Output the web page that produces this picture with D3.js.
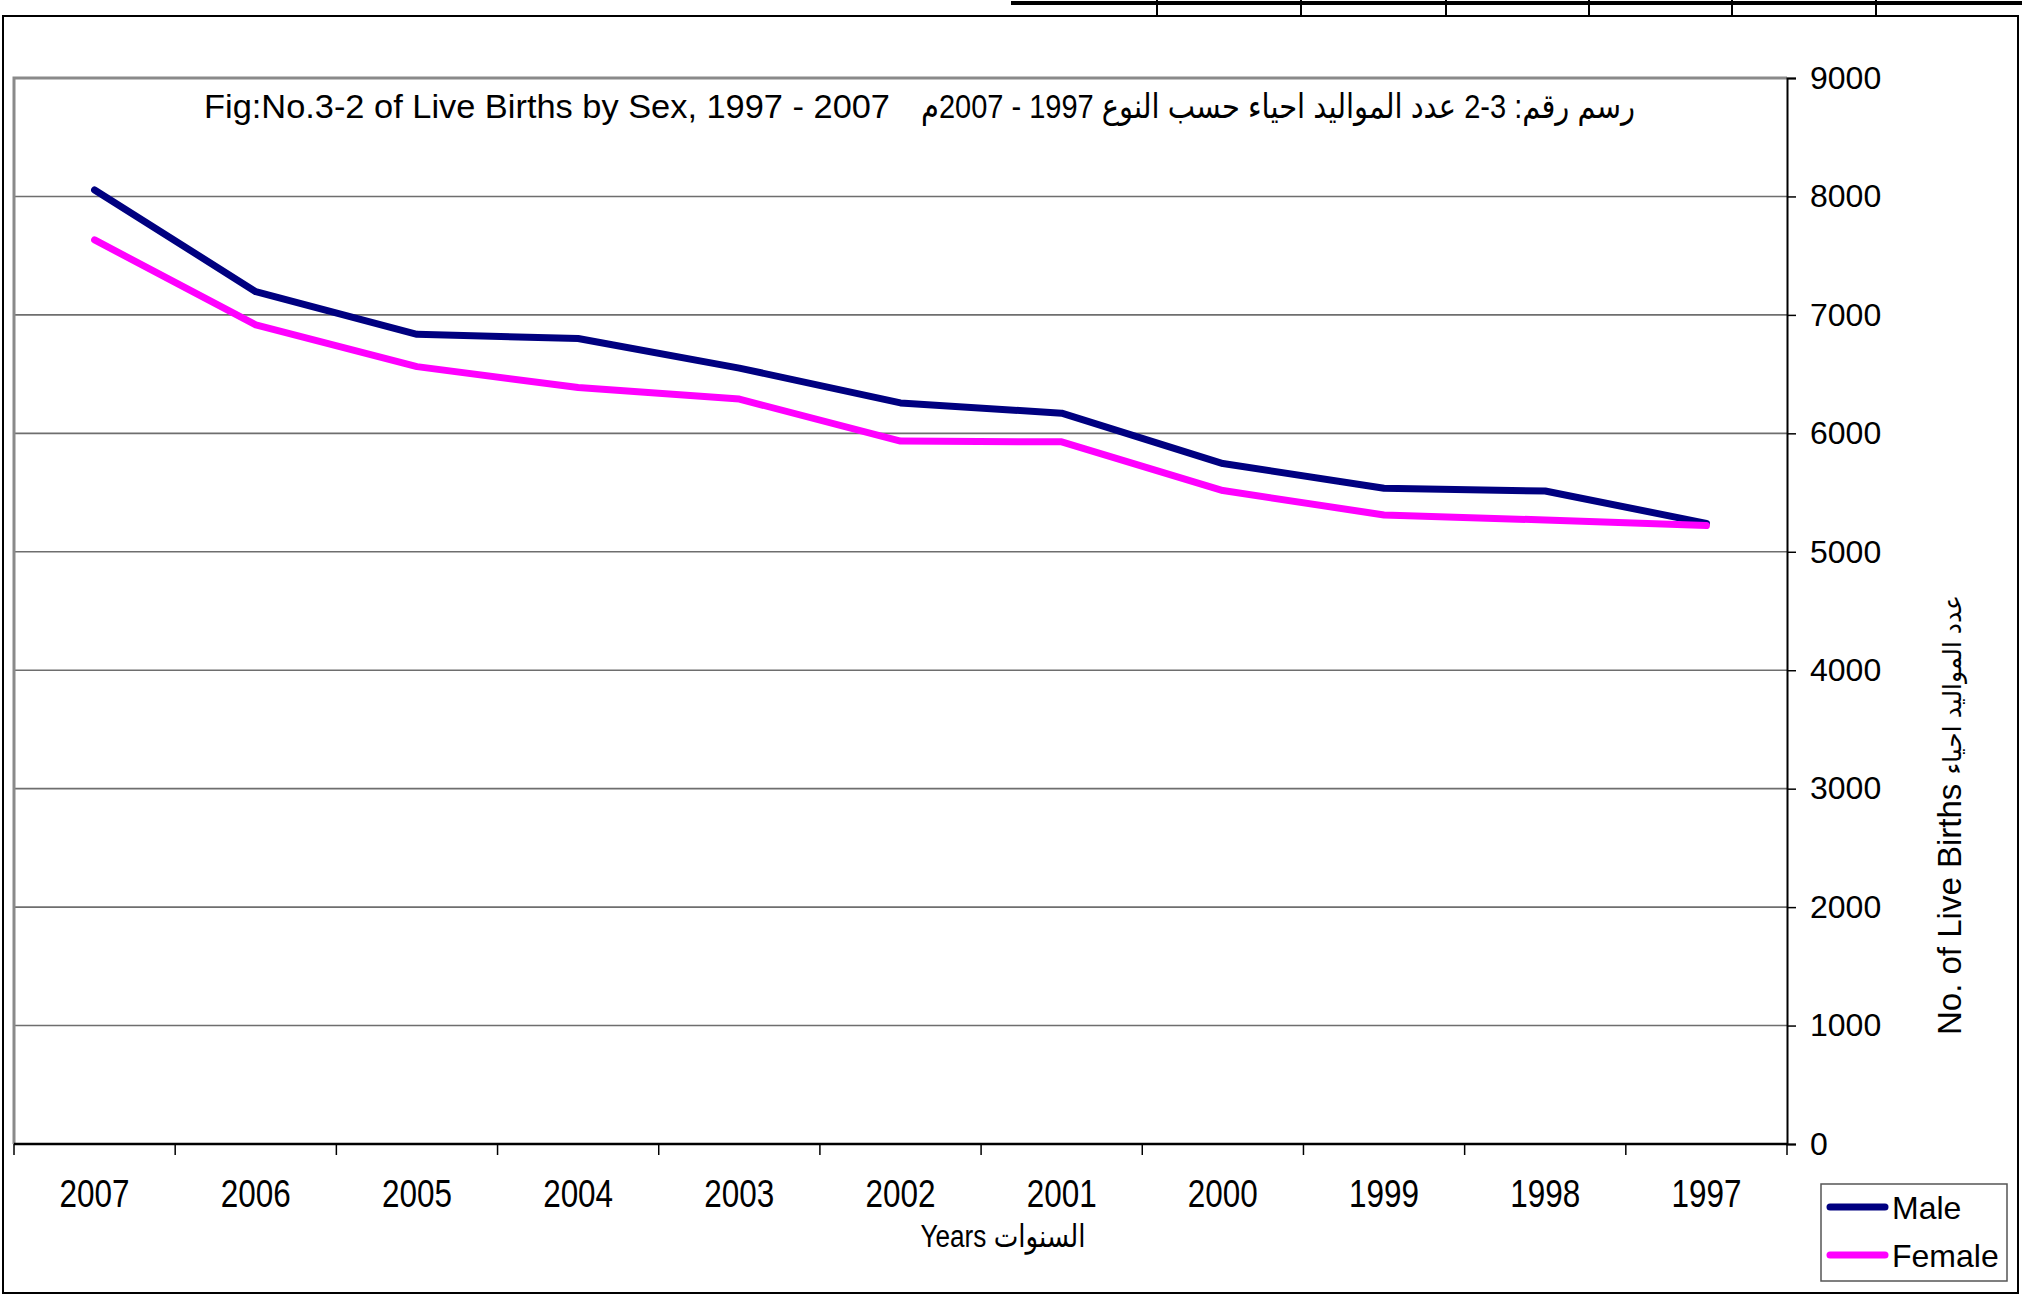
<!DOCTYPE html>
<html>
<head>
<meta charset="utf-8">
<script src="https://cdn.jsdelivr.net/npm/d3@7"></script>
<style>
  html, body { margin: 0; padding: 0; background: #fff; }
  svg { display: block; }
  text { font-family: "Liberation Sans", Arial, "DejaVu Sans", sans-serif; fill: #000; }
</style>
</head>
<body>
<svg id="chart" width="2022" height="1296"></svg>
<script>
// ---- data ----
const years = ["2007", "2006", "2005", "2004", "2003", "2002", "2001", "2000", "1999", "1998", "1997"];
const male = [8055, 7196, 6836, 6801, 6551, 6257, 6170, 5745, 5536, 5513, 5240];
const female = [7633, 6915, 6563, 6387, 6289, 5935, 5928, 5517, 5311, 5268, 5221];
const yTicks = [0, 1000, 2000, 3000, 4000, 5000, 6000, 7000, 8000, 9000];
const seriesNames = ["Male", "Female"];
const seriesColors = ["#000080", "#FF00FF"];
const titleEn = "Fig:No.3-2 of Live Births by Sex, 1997 - 2007";
const titleAr = "رسم رقم: 3-2 عدد المواليد احياء حسب النوع 1997 - 2007م";
const xTitle = "Years السنوات";
const yTitleEn = "No. of Live Births ";
const yTitleAr = "عدد المواليد احياء";

// ---- layout ----
const svg = d3.select("#chart");
const plot = { left: 14, right: 1787, top: 78, bottom: 1144 };

// spreadsheet cell-border artefacts at top right
const cellEdges = [1157, 1301, 1446, 1589, 1732, 1876];
svg.append("line").attr("x1", 1011).attr("x2", 2022).attr("y1", 3).attr("y2", 3)
  .attr("stroke", "#000").attr("stroke-width", 4);
svg.selectAll("line.cell").data(cellEdges).join("line").attr("class", "cell")
  .attr("x1", d => d).attr("x2", d => d).attr("y1", 0).attr("y2", 16)
  .attr("stroke", "#000").attr("stroke-width", 2);

// outer chart border
svg.append("rect").attr("x", 3).attr("y", 16).attr("width", 2015).attr("height", 1277)
  .attr("fill", "#fff").attr("stroke", "#000").attr("stroke-width", 2);

const x = d3.scaleBand().domain(years).range([plot.left, plot.right]).padding(0);
const y = d3.scaleLinear().domain([0, 9000]).range([plot.bottom, plot.top]);

// gridlines
svg.append("g")
  .selectAll("line").data(yTicks.filter(d => d > 0 && d < 9000)).join("line")
  .attr("x1", plot.left).attr("x2", plot.right)
  .attr("y1", d => y(d)).attr("y2", d => y(d))
  .attr("stroke", "#6e6e6e").attr("stroke-width", 1.6);

// plot frame (gray left and top)
svg.append("path")
  .attr("d", `M${plot.left},${plot.bottom} L${plot.left},${plot.top} L${plot.right},${plot.top}`)
  .attr("fill", "none").attr("stroke", "#8a8a8a").attr("stroke-width", 3);

// right y axis
const yAxis = d3.axisRight(y).tickValues(yTicks).tickSize(9).tickPadding(14).tickFormat(d3.format("d"));
const gy = svg.append("g").attr("transform", `translate(${plot.right},0)`).call(yAxis);
gy.select(".domain").attr("stroke", "#000").attr("stroke-width", 2);
gy.selectAll(".tick line").attr("stroke", "#000").attr("stroke-width", 1.5);
gy.selectAll(".tick text").attr("font-size", 32)
  .attr("font-family", '"Liberation Sans", Arial, sans-serif').attr("fill", "#000");

// bottom x axis (ticks at category boundaries)
const gx = svg.append("g");
gx.append("line").attr("x1", plot.left).attr("x2", plot.right)
  .attr("y1", plot.bottom).attr("y2", plot.bottom).attr("stroke", "#000").attr("stroke-width", 2.5);
const boundaries = years.map(d => x(d)).concat([x(years[years.length - 1]) + x.bandwidth()]);
gx.selectAll("line.tk").data(boundaries).join("line").attr("class", "tk")
  .attr("x1", d => d).attr("x2", d => d).attr("y1", plot.bottom).attr("y2", plot.bottom + 11)
  .attr("stroke", "#000").attr("stroke-width", 1.5);
gx.selectAll("text").data(years).join("text")
  .attr("x", d => x(d) + x.bandwidth() / 2).attr("y", 1207)
  .attr("text-anchor", "middle").attr("font-size", 39)
  .attr("textLength", 70).attr("lengthAdjust", "spacingAndGlyphs")
  .text(d => d);

// lines
const line = d3.line().x((d, i) => x(years[i]) + x.bandwidth() / 2).y(d => y(d));
[male, female].forEach((s, k) => {
  svg.append("path").datum(s).attr("d", line)
    .attr("fill", "none").attr("stroke", seriesColors[k]).attr("stroke-width", 7)
    .attr("stroke-linecap", "round").attr("stroke-linejoin", "round");
});

// title
svg.append("text").attr("x", 204).attr("y", 118).attr("font-size", 34)
  .attr("textLength", 686).attr("lengthAdjust", "spacingAndGlyphs").text(titleEn);
svg.append("text").attr("x", 1278).attr("y", 118).attr("font-size", 34)
  .attr("text-anchor", "middle").attr("direction", "rtl").style("unicode-bidi", "embed")
  .attr("textLength", 714).attr("lengthAdjust", "spacingAndGlyphs").text(titleAr);

// x title
svg.append("text").attr("x", 1003).attr("y", 1247).attr("font-size", 31)
  .attr("text-anchor", "middle").attr("textLength", 165).attr("lengthAdjust", "spacingAndGlyphs")
  .text(xTitle);

// y title (rotated)
const yt = svg.append("text").attr("transform", "translate(1961,815) rotate(-90)")
  .attr("text-anchor", "middle").attr("font-size", 33);
yt.append("tspan").text(yTitleEn);
yt.append("tspan").attr("font-size", 25).text(yTitleAr);

// legend
const lg = svg.append("g");
lg.append("rect").attr("x", 1821).attr("y", 1184).attr("width", 186).attr("height", 97)
  .attr("fill", "#fff").attr("stroke", "#555").attr("stroke-width", 1.5);
seriesNames.forEach((n, k) => {
  const yy = 1207 + k * 48;
  lg.append("line").attr("x1", 1830).attr("x2", 1885).attr("y1", yy).attr("y2", yy)
    .attr("stroke", seriesColors[k]).attr("stroke-width", 7).attr("stroke-linecap", "round");
  lg.append("text").attr("x", 1892).attr("y", yy + 12).attr("font-size", 32).text(n);
});
</script>
</body>
</html>
